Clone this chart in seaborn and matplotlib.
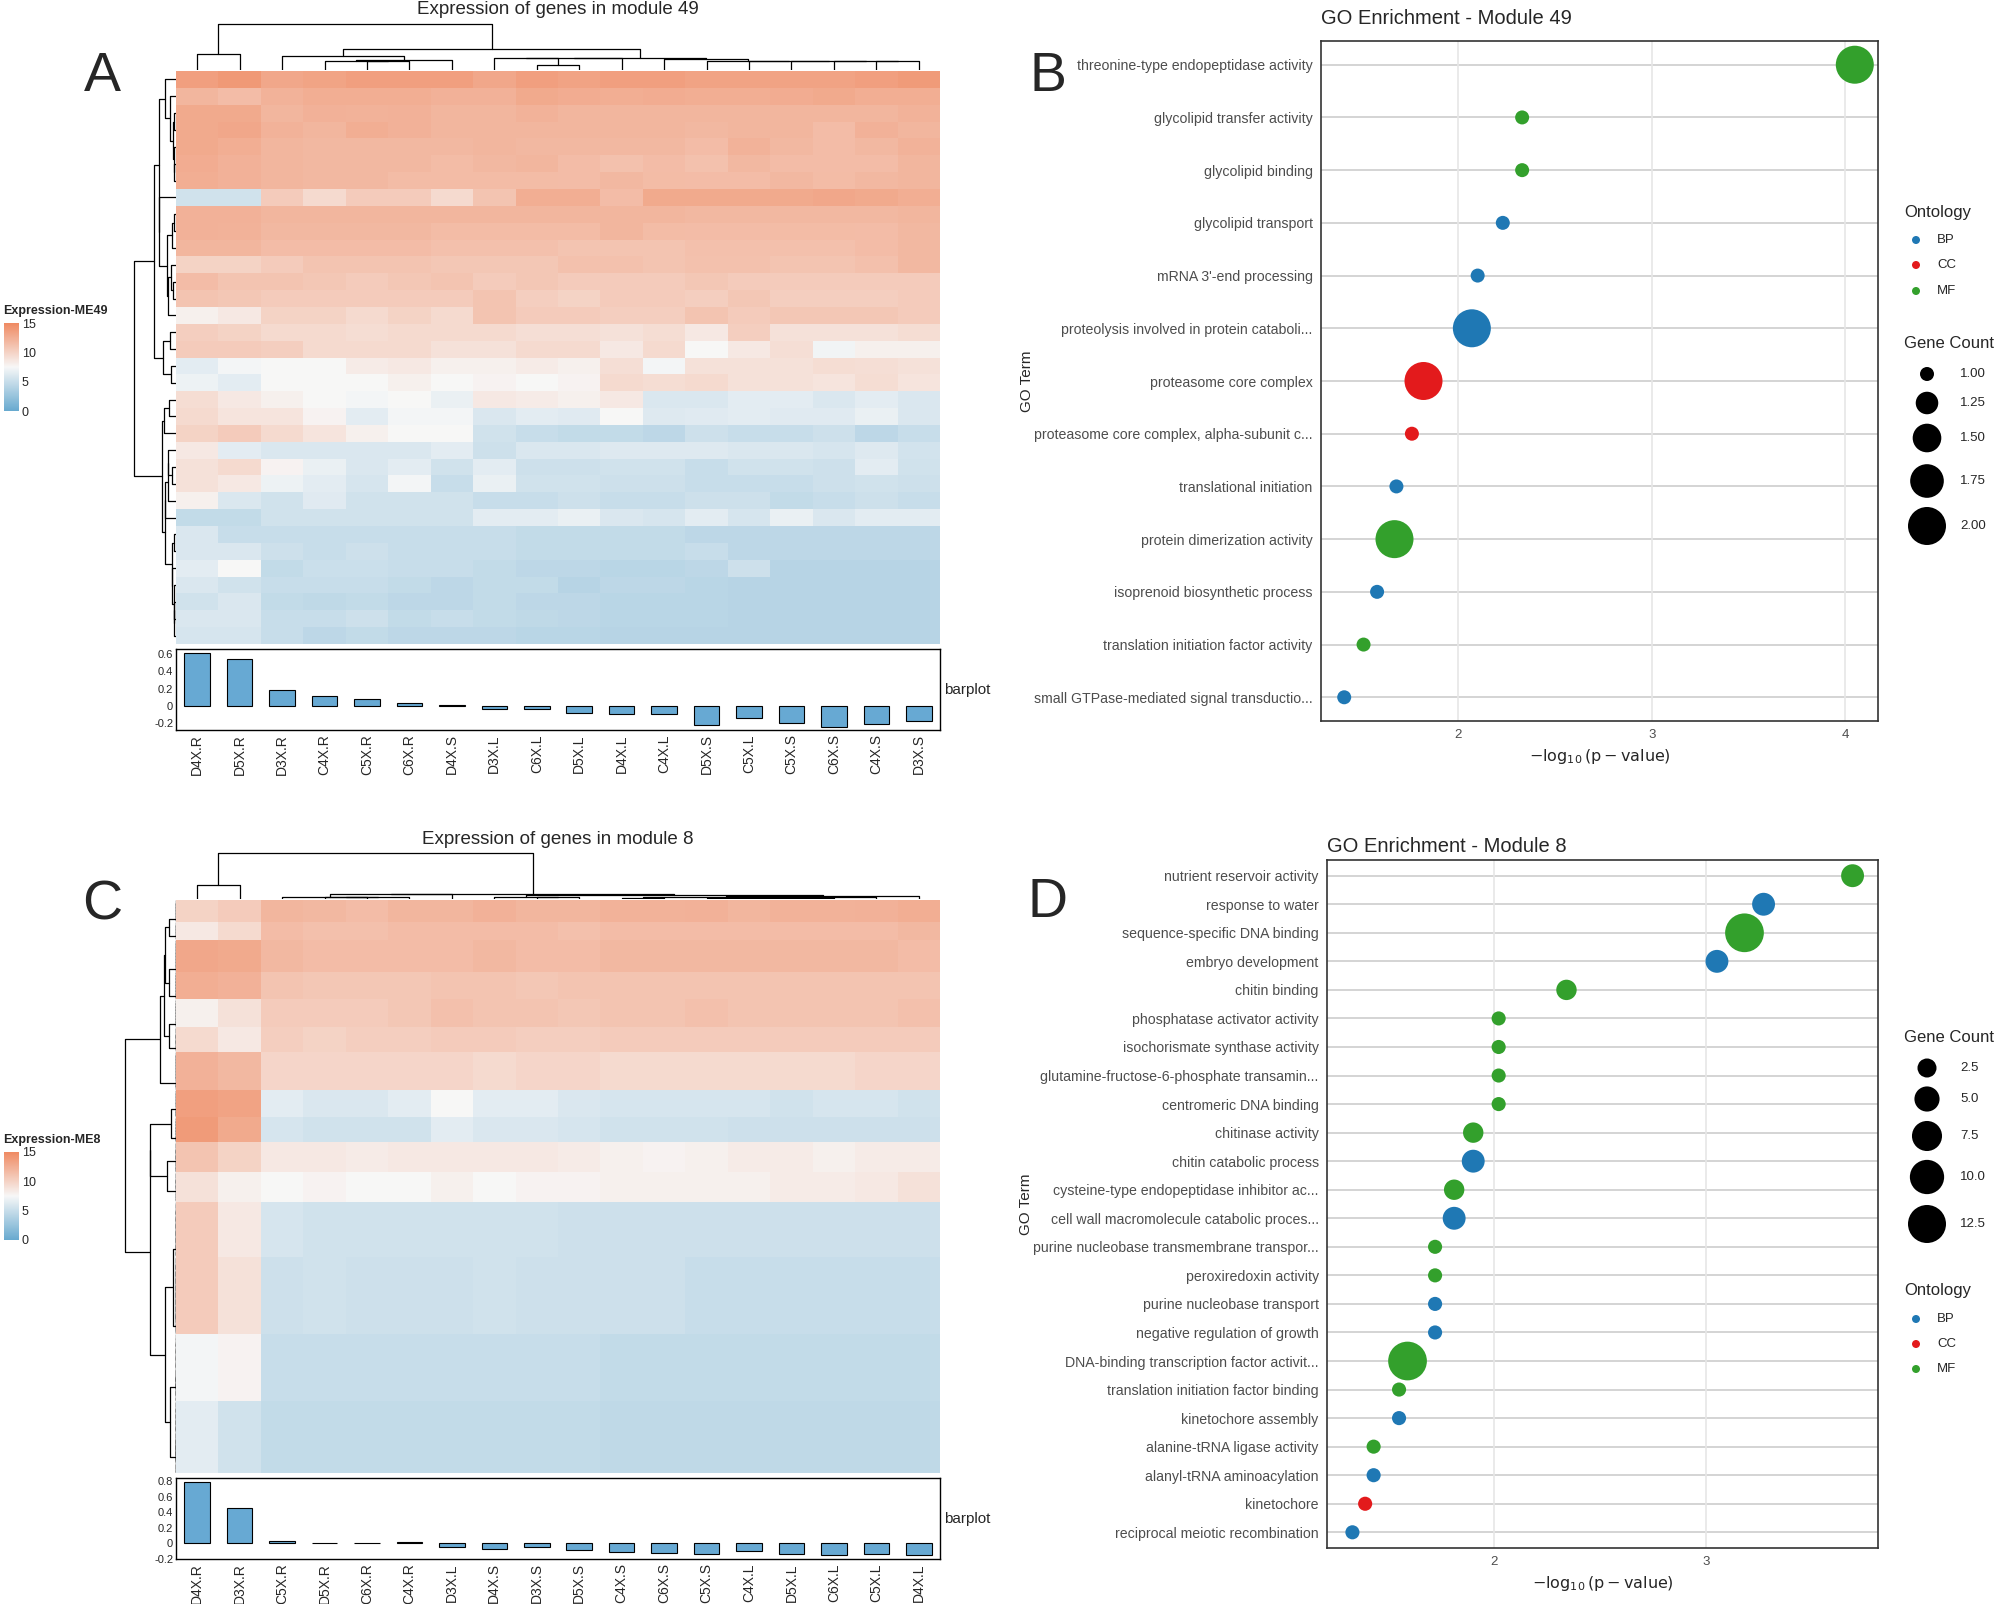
import numpy as np
import pandas as pd
import matplotlib
matplotlib.use("Agg")
import matplotlib.pyplot as plt
import seaborn as sns
from matplotlib.colors import LinearSegmentedColormap, Normalize
from matplotlib.cm import ScalarMappable

sns.set_theme(style="white")
plt.rcParams['font.family'] = ['Liberation Sans', 'DejaVu Sans']

# ---------------- data ----------------
cols49 = ["D4X.R","D5X.R","D3X.R","C4X.R","C5X.R","C6X.R","D4X.S","D3X.L","C6X.L",
          "D5X.L","D4X.L","C4X.L","D5X.S","C5X.L","C5X.S","C6X.S","C4X.S","D3X.S"]
expr49 = [
 [13.5,14,13,13.2,13.5,13.5,13.5,13,13.5,13.3,13.5,13.5,13.3,13.3,13.3,13.3,13.5,13.8],
 [12,11.5,12.2,12.5,12.5,12.5,12.3,12.3,12.8,12.6,12.5,12.6,12.5,12.5,12.6,12.8,12.5,12.5],
 [12.8,12.8,12,12.3,12.2,12.3,12,12,12.2,12,12,12,12,12,12,12,12,12.2],
 [12.8,13,12.2,12,12.5,12.3,12,12,12,12,12,12,11.8,12,12,11.5,12.3,12],
 [12.8,12.5,12,11.8,11.8,11.8,11.8,12,11.8,11.8,11.8,11.8,11.5,12.2,11.8,11.5,11.8,12.2],
 [12.6,12.3,12,11.8,11.8,11.8,11.6,11.8,12,11.5,11.2,11.5,11.2,11.8,11.5,11.5,11.5,12],
 [12.5,12.3,12,11.8,11.8,11.6,11.6,11.6,11.6,11.5,11.8,11.6,11.5,11.5,11.8,11.6,11.8,12],
 [5.5,5.5,10.5,9.5,10.5,10.5,9.5,11,12.5,12.5,11.5,12.8,12.8,12.8,12.8,13,12.8,12.5],
 [12.3,12.3,12,12,12,12,12,12,12,12,12,12,11.8,11.8,11.8,11.8,11.8,12],
 [12.3,12.2,11.8,11.8,11.8,11.8,11.6,11.6,11.6,11.6,12,11.6,11.5,11.5,11.6,11.6,11.5,11.8],
 [12,12,11.5,11.5,11.5,11.5,11.3,11.3,11.3,11,11,11,11.3,11.3,11.3,11.3,11.5,11.8],
 [10,10,10.5,11,11,11,10.8,10.8,10.8,11.2,11.2,11,11.2,11.2,11,11,11.3,11.8],
 [11.5,11,11,10.8,10.5,10.8,11,10.5,10.8,10.5,10.5,10.5,10.8,10.5,10.5,10.5,10.5,10.5],
 [11,10.8,10.5,10.5,10.5,10.5,10.5,11,10.3,10,10.5,10.5,10.3,10.8,10.3,10.3,10.3,10.5],
 [8,8.5,10,10,9.5,10,9.5,11,10.5,10.5,10.3,10.3,11,10.5,10.8,10.8,10.8,10.5],
 [10.3,10,9.5,9.5,9.3,9.5,9.5,9.5,9.2,9.2,9,9.3,8.5,10.3,9,9,9,9.3],
 [10.5,10.5,10.3,9.5,9.5,9.5,9,9,9.5,9.5,8.5,9.5,7.5,8.5,9.2,7.2,8,8],
 [6.5,7.3,7.5,7.5,8.3,8.5,8,8,8.3,8,9.2,7.3,9,9,9,9.3,9.2,9],
 [7,6.5,7.5,7.5,7.5,8,7.5,7.8,7.5,7.8,9.5,9.3,9.5,9,9,8.8,9.3,8.8],
 [9.3,8.5,8,7.5,7.3,7.5,6.8,8.5,8.3,8,8.5,6,6,6.5,6.5,6,6.5,6],
 [9.5,8.8,8.8,7.8,6.5,7.3,7.3,6,6.5,6.3,7.5,6.2,6.3,6.5,6.3,6.3,6.8,6],
 [10,10.5,9.5,8.8,8,7.5,7.5,5.5,5,4.8,4.8,4.5,5.3,5,5,5.3,4.5,5],
 [8.5,6.5,6,6,6,6,6.5,5.3,6,6,6.2,6.2,6.2,6,6,5.8,6.2,5.6],
 [9,9.5,7.8,6.8,6,6.5,5.5,6.5,5.3,5.3,5.5,5.5,5,5.5,5.5,5.3,6.5,5.5],
 [9,8.5,7,6.5,5.8,7.3,5,6.8,5.5,5.5,5.3,5.3,5,5,5,5.3,5.5,5.3],
 [8,6,5.5,6.3,5.5,5.5,5.5,5,5,5.3,5,5,5.3,5.3,4.8,5,5.3,5],
 [4.8,4.8,5.5,5.5,5.5,5.5,5.5,6.5,6.5,6.8,6,5.8,6.5,5.8,6.8,6,6.5,6.5],
 [6,5,5,5,5,5,5,5,4.8,4.8,4.8,4.8,4.5,4.5,4.5,4.5,4.5,4.5],
 [6,6,5.3,5,5.3,5,5,5,4.8,4.8,4.8,4.8,5,4.5,4.5,4.5,4.5,4.5],
 [6.5,7.5,4.8,5.2,5.2,5,5,4.8,4.5,4.5,4.3,4.3,4.5,5.3,4.2,4.2,4.2,4.2],
 [6,5.5,5,5,5,4.8,4.5,4.8,4.8,4.2,4.5,4.5,4.3,4.2,4.2,4.2,4.2,4.2],
 [5.5,6,4.8,4.6,4.8,4.5,4.5,4.8,4.5,4.5,4.3,4.3,4.3,4.2,4.2,4.2,4.2,4.2],
 [6,6,5,5,5.3,4.8,5,4.8,4.6,4.5,4.3,4.3,4.3,4.2,4.2,4.2,4.2,4.2],
 [5.8,5.8,5,4.5,4.8,4.5,4.5,4.5,4.3,4.3,4.2,4.2,4.2,4.2,4.2,4.2,4.2,4.2],
]
bar49 = [0.61,0.54,0.19,0.12,0.08,0.03,0.01,-0.04,-0.04,-0.08,-0.09,-0.10,
         -0.22,-0.14,-0.20,-0.25,-0.21,-0.18]

cols8 = ["D4X.R","D3X.R","C5X.R","D5X.R","C6X.R","C4X.R","D3X.L","D4X.S","D3X.S",
         "D5X.S","C4X.S","C6X.S","C5X.S","C4X.L","D5X.L","C6X.L","C5X.L","D4X.L"]
# module 8: blocks of genes (number of genes, expression per sample)
block_sizes8 = [22,18,32,28,28,25,38,28,25,30,30,55,78,68,72]
block_expr8 = [
 [10,10.5,12,11.8,11.5,12,12,12.3,12,12,12.2,12.2,12.3,12,12.2,12.2,12.3,12.5],
 [8.5,9.5,11.5,11.3,11.3,11.5,11.5,11.5,11.5,11.3,11.5,11.5,11.5,11.5,11.5,11.5,11.5,11.8],
 [13,12.8,11.8,11.5,11.5,11.5,11.5,11.8,11.5,11.5,11.8,11.8,11.8,11.8,11.8,11.8,11.8,11.5],
 [12.5,12.3,11,10.8,10.8,10.8,11,11,10.8,11,11,11,11,11,11,11,11,11],
 [8,9,10.5,10.5,10.5,10.8,11.3,11,11,10.8,11,11,11.3,11,11,11,11,11.3],
 [9.5,8.5,10.3,10,10.3,10.3,10.5,10.5,10.3,10.3,10.5,10.5,10.5,10.5,10.5,10.5,10.5,10.5],
 [12.3,11.8,9.8,9.8,9.8,9.8,9.8,9.5,9.8,9.8,9.5,9.5,9.5,9.5,9.5,9.5,9.8,9.8],
 [13.5,13.3,6.5,6,6,6.5,7.5,6.5,6.5,6,5.8,5.8,5.8,5.8,5.5,5.8,5.8,5.5],
 [13.8,12.8,5.8,5.5,5.5,5.5,6.5,6,6,5.8,5.5,5.5,5.5,5.3,5.3,5.3,5.3,5.3],
 [11,10,8.5,8.5,8.3,8.5,8.5,8.5,8.5,8.3,8,7.8,8,8.3,8.3,8,8.3,8.3],
 [9,8,7.5,7.8,7.5,7.5,8,7.5,7.8,7.8,8,8,8,8,8.3,8.3,8.5,9],
 [10.5,8.5,5.8,5.5,5.5,5.5,5.5,5.5,5.5,5.3,5.3,5.3,5.3,5.3,5.3,5.3,5.3,5.3],
 [10.5,9,5.3,5.5,5.3,5.3,5.3,5.5,5.3,5.3,5.3,5.3,5,5,5,5,5,5],
 [7.3,7.8,5,5,5,5,5,5,5,5,4.8,4.8,4.8,4.8,4.8,4.8,4.8,4.8],
 [6.5,5.5,4.8,4.8,4.8,4.8,4.8,4.8,4.8,4.8,4.6,4.6,4.6,4.6,4.6,4.6,4.6,4.6],
]
bar8 = [0.79,0.46,0.03,0.01,0.01,0.02,-0.05,-0.07,-0.04,-0.08,-0.11,-0.12,-0.13,
        -0.10,-0.14,-0.15,-0.14,-0.15]

go49_terms = ["threonine-type endopeptidase activity","glycolipid transfer activity",
  "glycolipid binding","glycolipid transport","mRNA 3'-end processing",
  "proteolysis involved in protein cataboli...","proteasome core complex",
  "proteasome core complex, alpha-subunit c...","translational initiation",
  "protein dimerization activity","isoprenoid biosynthetic process",
  "translation initiation factor activity","small GTPase-mediated signal transductio..."]
go49_logp = [4.05,2.33,2.33,2.23,2.10,2.07,1.82,1.76,1.68,1.67,1.58,1.51,1.41]
go49_count = [2,1,1,1,1,2,2,1,1,2,1,1,1]
go49_ont = ["MF","MF","MF","BP","BP","BP","CC","CC","BP","MF","BP","MF","BP"]

go8_terms = ["nutrient reservoir activity","response to water","sequence-specific DNA binding",
  "embryo development","chitin binding","phosphatase activator activity",
  "isochorismate synthase activity","glutamine-fructose-6-phosphate transamin...",
  "centromeric DNA binding","chitinase activity","chitin catabolic process",
  "cysteine-type endopeptidase inhibitor ac...","cell wall macromolecule catabolic proces...",
  "purine nucleobase transmembrane transpor...","peroxiredoxin activity",
  "purine nucleobase transport","negative regulation of growth",
  "DNA-binding transcription factor activit...","translation initiation factor binding",
  "kinetochore assembly","alanine-tRNA ligase activity","alanyl-tRNA aminoacylation",
  "kinetochore","reciprocal meiotic recombination"]
go8_logp = [3.69,3.27,3.18,3.05,2.34,2.02,2.02,2.02,2.02,1.90,1.90,1.81,1.81,
            1.72,1.72,1.72,1.72,1.59,1.55,1.55,1.43,1.43,1.39,1.33]
go8_count = [4,4,13,4,3,1,1,1,1,3,4,3,4,1,1,1,1,13,1,1,1,1,1,1]
go8_ont = ["MF","BP","MF","BP","MF","MF","MF","MF","MF","MF","BP","MF","BP",
           "MF","MF","BP","BP","MF","MF","BP","MF","BP","CC","BP"]

ont_colors = {"BP": "#1F78B4", "CC": "#E31A1C", "MF": "#33A02C"}

# ---------------- helpers ----------------
W, H = 2000, 1604
fig = plt.figure(figsize=(W/100, H/100), dpi=100)

def ax_px(x0, y0, x1, y1):
    return fig.add_axes([x0/W, 1-y1/H, (x1-x0)/W, (y1-y0)/H])

cmap = LinearSegmentedColormap.from_list("rb", [(0, "#67A9CF"), (0.5, "#F7F7F7"), (1, "#EF8A62")])
norm = Normalize(0, 15)

def adjacent_linkage(M):
    clusters = [dict(mean=M[i].astype(float), n=1, pos=i+0.5, h=0.0) for i in range(len(M))]
    links = []
    while len(clusters) > 1:
        d = [np.linalg.norm(clusters[i]['mean']-clusters[i+1]['mean']) for i in range(len(clusters)-1)]
        k = int(np.argmin(d))
        a, b = clusters[k], clusters[k+1]
        h = max(d[k], a['h'], b['h'])
        links.append((a['pos'], a['h'], b['pos'], b['h'], h))
        n = a['n']+b['n']
        new = dict(mean=(a['mean']*a['n']+b['mean']*b['n'])/n, n=n, pos=(a['pos']+b['pos'])/2, h=h)
        clusters[k:k+2] = [new]
    return links

def draw_dendro(ax, M, orient):
    links = adjacent_linkage(M)
    hmax = max(l[4] for l in links)
    for pa, ha, pb, hb, h in links:
        if orient == "top":
            ax.plot([pa, pa, pb, pb], [ha, h, h, hb], color="black", lw=0.9)
        else:
            ax.plot([ha, h, h, hb], [pa, pa, pb, pb], color="black", lw=0.9)
    n = len(M)
    if orient == "top":
        ax.set_xlim(0, n); ax.set_ylim(0, hmax*1.02)
    else:
        ax.set_ylim(n, 0); ax.set_xlim(hmax*1.02, 0)
    ax.axis("off")

def heat_panel(data, cols, bars, top, title, letter, leglabel, dendro_left, bar_ylim, bar_ticks):
    x0, x1 = 176, 940
    hy0, hy1 = top + 48, top + 621
    df = pd.DataFrame(data, columns=cols)
    axh = ax_px(x0, hy0, x1, hy1)
    sns.heatmap(df, ax=axh, cmap=cmap, vmin=0, vmax=15, cbar=False,
                xticklabels=False, yticklabels=False, rasterized=True)
    axc = ax_px(x0, top, x1, hy0 - 1)
    draw_dendro(axc, df.values.T, "top")
    axr = ax_px(dendro_left, hy0, x0, hy1)
    draw_dendro(axr, df.values, "left")
    axb = ax_px(x0, hy1 + 5, x1, hy1 + 86)
    bdf = pd.DataFrame({"sample": cols, "value": bars})
    sns.barplot(data=bdf, x="sample", y="value", ax=axb, color="#67A9D3",
                edgecolor="black", linewidth=0.8, width=0.6, saturation=1)
    axb.set_ylim(*bar_ylim)
    axb.set_yticks(bar_ticks)
    axb.set_yticklabels([f"{t:g}" for t in bar_ticks], fontsize=8)
    axb.set_xlabel(""); axb.set_ylabel("")
    axb.tick_params(axis="x", labelrotation=90, labelsize=10, length=0, pad=3)
    axb.tick_params(axis="y", length=0, pad=2)
    for s in axb.spines.values():
        s.set_visible(True); s.set_color("black"); s.set_linewidth(1)
    fig.text(944/W, 1-(hy1+46)/H, "barplot", fontsize=11, va="center", ha="left")
    fig.text(558/W, 1-(top-13)/H, title, fontsize=13.5, ha="center", va="center")
    fig.text(102/W, 1-(top+54)/H, letter, fontsize=40, ha="center", va="center")
    # colorbar legend
    ly = top + 288
    fig.text(3/W, 1-(ly)/H, leglabel, fontsize=9, fontweight="bold", va="center")
    cax = ax_px(4, ly + 12, 19, ly + 100)
    cb = fig.colorbar(ScalarMappable(norm=norm, cmap=cmap), cax=cax, ticks=[0, 5, 10, 15])
    cb.outline.set_visible(False)
    cax.tick_params(labelsize=9, length=4, color="white", direction="in", pad=2)

heat_panel(expr49, cols49, bar49, 23, "Expression of genes in module 49", "A",
           "Expression-ME49", 133, (-0.28, 0.66), [0.6, 0.4, 0.2, 0, -0.2])

rows8 = []
for n, v in zip(block_sizes8, block_expr8):
    rows8.extend([v]*n)
heat_panel(rows8, cols8, bar8, 852, "Expression of genes in module 8", "C",
           "Expression-ME8", 124, (-0.2, 0.84), [0.8, 0.6, 0.4, 0.2, 0, -0.2])

# ---------------- GO dot plots ----------------
def size_pts(c, a, b):
    d_px = np.sqrt(np.maximum(a + b*np.asarray(c, float), 1))
    return (d_px*0.72)**2

def go_panel(rect, terms, logp, count, ont, xlim, xticks, title, letter, sa, sb, pad, tpad):
    ax = ax_px(*rect)
    n = len(terms)
    df = pd.DataFrame({"y": np.arange(n)[::-1], "x": logp, "count": count, "ont": ont})
    df["s"] = size_pts(df["count"], sa, sb)
    ax.set_axisbelow(True)
    for yy in range(n):
        ax.axhline(yy, color="#D4D4D4", lw=1.4, zorder=0)
    for xx in xticks:
        ax.axvline(xx, color="#E6E6E6", lw=1.2, zorder=0)
    for o in ["BP", "CC", "MF"]:
        sub = df[df.ont == o]
        sns.scatterplot(data=sub, x="x", y="y", ax=ax, s=sub["s"].values,
                        color=ont_colors[o], edgecolor="none", legend=False, zorder=3)
    ax.set_xlim(*xlim)
    ax.set_ylim(-pad, n-1+pad)
    ax.set_yticks(np.arange(n)[::-1])
    ax.set_yticklabels(terms, fontsize=10.2, color="#4D4D4D")
    ax.set_xticks(xticks)
    ax.set_xticklabels([str(t) for t in xticks], fontsize=9.5, color="#4D4D4D")
    ax.tick_params(length=0, pad=6)
    ax.grid(False)
    for s in ax.spines.values():
        s.set_visible(True); s.set_color("#333333"); s.set_linewidth(1.2)
    ax.set_xlabel(r"$-\log_{10}(\mathrm{p}-\mathrm{value})$", fontsize=11.5, labelpad=4)
    ax.set_ylabel("GO Term", fontsize=11, labelpad=0)
    ax.set_title(title, fontsize=14.5, pad=tpad, loc="left")
    fig.text(1048/W, 1-77/H if letter == "B" else 1-903/H, letter, fontsize=40,
             ha="center", va="center")
    return ax

go_panel((1321, 41, 1878, 721), go49_terms, go49_logp, go49_count, go49_ont,
         (1.29, 4.17), [2, 3, 4], "GO Enrichment - Module 49", "B", -1052, 1248, 0.45, 12)
go_panel((1327, 860, 1878, 1548), go8_terms, go8_logp, go8_count, go8_ont,
         (1.21, 3.81), [2, 3], "GO Enrichment - Module 8", "D", 91, 108.3, 0.55, 6)

# ---------------- legends (overlay) ----------------
ov = fig.add_axes([0, 0, 1, 1])
ov.set_xlim(0, W); ov.set_ylim(H, 0); ov.axis("off")

def ont_legend(ytitle, ys):
    ov.text(1904, ytitle, "Ontology", fontsize=12, va="center")
    for o, yy in zip(["BP", "CC", "MF"], ys):
        ov.scatter([1916], [yy], s=(8*0.72)**2, color=ont_colors[o], edgecolor="none")
        ov.text(1937, yy, o, fontsize=9.5, va="center")

def size_legend(ytitle, ys, vals, labels, a, b):
    ov.text(1904, ytitle, "Gene Count", fontsize=12, va="center")
    for v, yy, lab in zip(vals, ys, labels):
        ov.scatter([1927], [yy], s=size_pts(v, a, b), color="black", edgecolor="none")
        ov.text(1960, yy, lab, fontsize=9.5, va="center")

ont_legend(212, [240, 265, 291])
size_legend(344, [374, 403, 438, 481, 526], [1.0, 1.25, 1.5, 1.75, 2.0],
            ["1.00", "1.25", "1.50", "1.75", "2.00"], -1052, 1248)
size_legend(1038, [1068, 1099, 1136, 1177, 1224], [2.5, 5, 7.5, 10, 12.5],
            ["2.5", "5.0", "7.5", "10.0", "12.5"], 91, 108.3)
ont_legend(1291, [1319, 1344, 1369])

fig.savefig("out.png", dpi=100, facecolor="white")
